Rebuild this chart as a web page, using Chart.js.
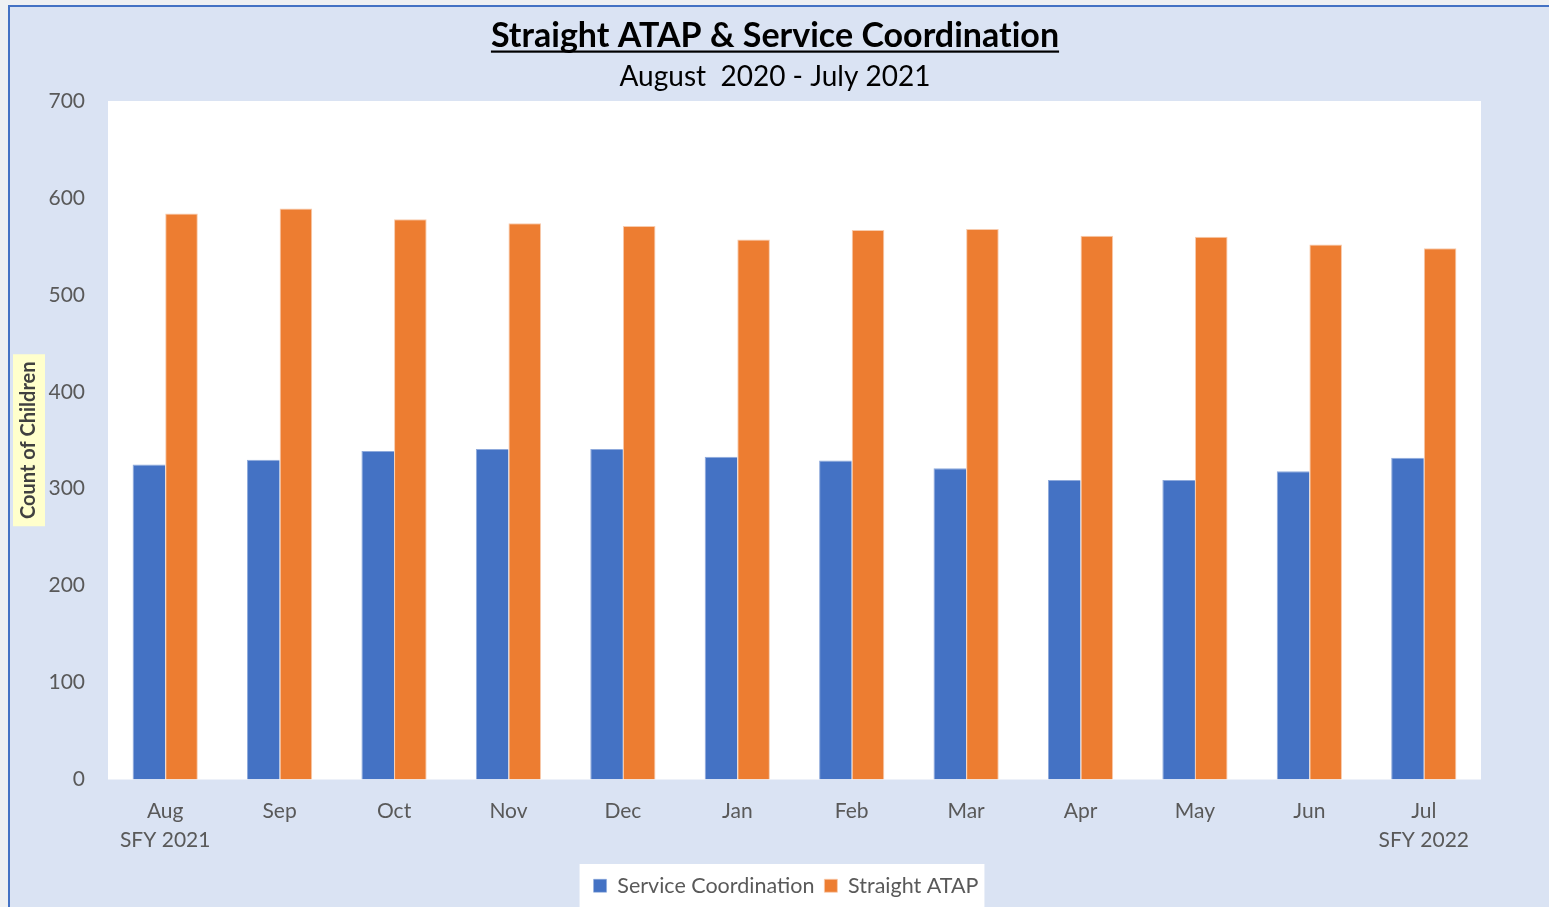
<!DOCTYPE html>
<html>
<head>
<meta charset="utf-8">
<script src="https://cdn.jsdelivr.net/npm/chart.js@4/dist/chart.umd.min.js"></script>
<style>
  html, body { margin: 0; padding: 0; width: 1549px; height: 907px; overflow: hidden; background: #eef0f3; }
  #frame { position: absolute; left: 8px; top: 5px; width: 1545px; height: 910px; background: #DAE3F3;
           border-left: 2px solid #4472C4; border-top: 2px solid #4472C4; }
  #wrap { position: absolute; left: 0; top: 0; width: 1539px; height: 900px; }
</style>
</head>
<body>
<div id="frame"><div id="wrap"><canvas id="c" width="1539" height="900"></canvas></div></div>
<script>
const titleText = "Straight ATAP & Service Coordination";
const subtitleText = "August  2020 - July 2021";
const yAxisTitle = "Count of Children";
const categories = [["Aug","SFY 2021"],"Sep","Oct","Nov","Dec","Jan","Feb","Mar","Apr","May","Jun",["Jul","SFY 2022"]];
const seriesNames = ["Service Coordination", "Straight ATAP"];
const serviceCoordination = [325, 330, 339, 341, 341, 333, 329, 321, 309, 309, 318, 332];
const straightATAP = [584, 589, 578, 574, 571, 557, 567, 568, 561, 560, 552, 548];
const yMin = 0, yMax = 700, yStep = 100;

const FONT = "Lato, 'Open Sans', sans-serif";

const decor = {
  id: 'decor',
  afterLayout(chart) {
    const lg = chart.legend;
    if (!lg) return;
    const h = lg.bottom - lg.top;
    lg.top = 858; lg.bottom = lg.top + h;
    const shift = 776 - (lg.left + lg.right) / 2;
    lg.left += shift; lg.right += shift;
  },
  beforeDraw(chart) {
    const ctx = chart.ctx;
    const ca = chart.chartArea;
    ctx.save();
    ctx.fillStyle = '#FFFFFF';
    ctx.fillRect(ca.left, ca.top, ca.right - ca.left, ca.bottom - ca.top);
    const midY = (ca.top + ca.bottom) / 2;
    ctx.fillStyle = '#FFFFCC';
    ctx.fillRect(3, midY - 86, 32, 172);
    const lg = chart.legend;
    if (lg && lg.legendHitBoxes && lg.legendHitBoxes.length) {
      const hb = lg.legendHitBoxes;
      const l = hb[0].left - 14;
      const r = hb[hb.length - 1].left + hb[hb.length - 1].width + 6;
      ctx.fillStyle = '#FFFFFF';
      ctx.fillRect(l, 857, r - l, 60);
    }
    ctx.fillStyle = '#000000';
    ctx.textAlign = 'center';
    ctx.textBaseline = 'alphabetic';
    try { ctx.letterSpacing = '0.01px'; } catch (e) {}
    ctx.font = "bold 34px " + FONT;
    const cx = 765;
    ctx.fillText(titleText, cx, 40);
    const w = ctx.measureText(titleText).width;
    ctx.fillRect(cx - w / 2, 43.5, w, 2.2);
    ctx.font = "28px " + FONT;
    ctx.fillText(subtitleText, cx, 79);
    ctx.restore();
  }
};

new Chart(document.getElementById('c'), {
  type: 'bar',
  data: {
    labels: categories,
    datasets: [
      { label: seriesNames[0], data: serviceCoordination, backgroundColor: '#4472C4', borderColor: '#8FAADC', borderWidth: {top: 1, left: 1, right: 0, bottom: 0} },
      { label: seriesNames[1], data: straightATAP, backgroundColor: '#ED7D31', borderColor: '#F8CBAD', borderWidth: {top: 1, left: 1, right: 1, bottom: 0} }
    ]
  },
  options: {
    responsive: false,
    animation: false,
    layout: { padding: { top: 94, left: 0, right: 68, bottom: 0 } },
    datasets: { bar: { categoryPercentage: 0.57, barPercentage: 1.0 } },
    scales: {
      x: {
        grid: { display: false },
        border: { display: false },
        ticks: { color: '#595959', font: { family: FONT, size: 21, lineHeight: 1.35 }, padding: 10, maxRotation: 0, autoSkip: false },
        afterFit(s) { s.height = 86; }
      },
      y: {
        min: yMin, max: yMax,
        grid: { display: false },
        border: { display: false },
        ticks: { stepSize: yStep, color: '#595959', font: { family: FONT, size: 21 }, padding: 15 },
        title: { display: true, text: yAxisTitle, color: '#404040', font: { family: FONT, size: 20, weight: 'bold' }, padding: { top: 7, bottom: 0 } },
        afterFit(s) { s.width = 98; }
      }
    },
    plugins: {
      title: { display: false },
      tooltip: { enabled: false },
      legend: {
        position: 'bottom',
        labels: { color: '#595959', font: { family: FONT, size: 21.5 }, boxWidth: 13, boxHeight: 13, padding: 10 }
      }
    }
  },
  plugins: [decor]
});
</script>
</body>
</html>
